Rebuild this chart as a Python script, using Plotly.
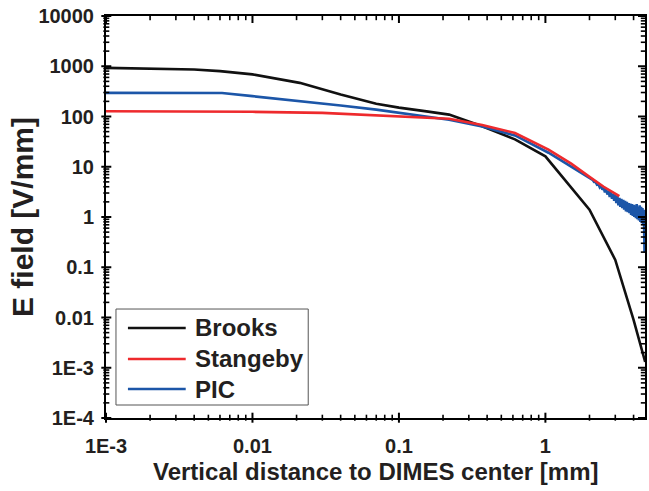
import plotly.graph_objects as go

# ---- data -------------------------------------------------------------
BROOKS_X = [0.001, 0.002, 0.004, 0.006, 0.01, 0.021, 0.04, 0.07, 0.1, 0.15,
            0.22, 0.37, 0.62, 1.0, 2.0, 3.0, 4.0, 4.8]
BROOKS_Y = [930, 910, 860, 800, 690, 467, 274, 180, 150, 128,
            109, 64, 35, 16.1, 1.4, 0.14, 0.009, 0.0013]

STANGEBY_X = [0.001, 0.003, 0.01, 0.03, 0.07, 0.1, 0.22, 0.37, 0.62, 1.05,
              1.5, 2.0, 2.5, 3.2]
STANGEBY_Y = [127, 126, 124, 118, 106, 100, 90, 68, 47, 22,
              11.5, 6.3, 4.0, 2.6]

PIC_X = [0.001, 0.0062, 0.01, 0.021, 0.04, 0.07, 0.1, 0.22, 0.37, 0.62,
         1.05, 1.5, 1.96]
PIC_Y = [295, 293, 254, 205, 165, 137, 118, 86, 63, 42,
         19, 10, 6.1]

# noisy tail of the particle-in-cell result
PIC_TAIL_X = [2.00, 2.05, 2.10, 2.15, 2.20, 2.25, 2.30, 2.35, 2.40, 2.45,
              2.50, 2.55, 2.60, 2.65, 2.70, 2.75, 2.80, 2.85, 2.90, 2.95,
              3.00, 3.05, 3.10, 3.15, 3.20, 3.25, 3.30, 3.35, 3.40, 3.45,
              3.50, 3.55, 3.60, 3.65, 3.70, 3.75, 3.80, 3.85, 3.90, 3.95,
              4.00, 4.05, 4.10, 4.15, 4.20, 4.25, 4.30, 4.35, 4.40, 4.45,
              4.50, 4.55, 4.60, 4.65, 4.70, 4.75, 4.80, 4.85]
PIC_TAIL_Y = [6.0, 5.6, 5.5, 5.0, 5.0, 4.4, 4.5, 3.9, 4.2, 3.5,
              3.8, 3.1, 3.6, 2.8, 3.3, 2.5, 3.1, 2.3, 2.9, 2.1,
              2.8, 1.9, 2.6, 1.7, 2.4, 1.6, 2.3, 1.5, 2.2, 1.4,
              2.1, 1.3, 2.0, 1.25, 1.9, 1.2, 1.85, 1.1, 1.8, 1.05,
              1.75, 1.0, 1.7, 0.95, 1.8, 0.9, 1.6, 0.85, 1.7, 0.8,
              1.6, 0.75, 1.5, 0.7, 1.4, 0.2, 1.3, 0.9]

SERIES_NAMES = ["Brooks", "Stangeby", "PIC"]
SERIES_COLORS = ["#111111", "#ee2a2d", "#1c56a8"]

X_TICKS = [0.001, 0.01, 0.1, 1]
X_TICK_TEXT = ["1E-3", "0.01", "0.1", "1"]
Y_TICKS = [1e-4, 1e-3, 0.01, 0.1, 1, 10, 100, 1000, 10000]
Y_TICK_TEXT = ["1E-4", "1E-3", "0.01", "0.1", "1", "10", "100", "1000", "10000"]

X_MINOR = [m * 10.0 ** e for e in range(-3, 1) for m in range(2, 10) if m * 10.0 ** e < 4.8]
Y_MINOR = [m * 10.0 ** e for e in range(-4, 4) for m in range(2, 10)]

X_RANGE = [-3, 0.68]
Y_RANGE = [-4, 4]

WIDTH, HEIGHT = 649, 491
MARGIN = dict(l=106, r=2, t=16, b=73)
PLOT_W = WIDTH - MARGIN["l"] - MARGIN["r"]
PLOT_H = HEIGHT - MARGIN["t"] - MARGIN["b"]
X_DECADE_PX = PLOT_W / (X_RANGE[1] - X_RANGE[0])
Y_DECADE_PX = PLOT_H / (Y_RANGE[1] - Y_RANGE[0])

FONT = "Liberation Sans"
INK = "#231f20"

fig = go.Figure()

curves = [
    (BROOKS_X, BROOKS_Y),
    (PIC_X + PIC_TAIL_X, PIC_Y + PIC_TAIL_Y),
    (STANGEBY_X, STANGEBY_Y),
]
order = [0, 2, 1]
for (xs, ys), idx in zip(curves, order):
    fig.add_trace(go.Scatter(
        x=xs, y=ys, mode="lines", name=SERIES_NAMES[idx],
        line=dict(color=SERIES_COLORS[idx], width=2.6),
        showlegend=False,
    ))


# ---- tick marks as line-shaped markers sitting on the frame -------------
def shift_x(log_edge, px):
    return 10 ** (log_edge + px / X_DECADE_PX)


def shift_y(log_edge, px):
    return 10 ** (log_edge + px / Y_DECADE_PX)


def tick_marks(xs, ys, length, width, vertical):
    # a "line-ew" marker is 1.4 x its size long
    fig.add_trace(go.Scatter(
        x=xs, y=ys, mode="markers", cliponaxis=False,
        marker=dict(symbol="line-ew", size=length / 1.4, color="black",
                    angle=90 if vertical else 0,
                    line=dict(color="black", width=width)),
        showlegend=False, hoverinfo="skip",
    ))


for vals, length, width in ((X_TICKS, 10, 2), (X_MINOR, 6, 1.6)):
    n = len(vals)
    tick_marks(vals, [shift_y(Y_RANGE[0], 0.3)] * n, length, width, True)             # bottom
    tick_marks(vals, [shift_y(Y_RANGE[1], -length * 0.35)] * n, length * 0.7, width, True)  # top

for vals, length, width in ((Y_TICKS, 10, 2), (Y_MINOR, 6, 1.6)):
    n = len(vals)
    tick_marks([shift_x(X_RANGE[0], 0.3)] * n, vals, length, width, False)            # left
    tick_marks([shift_x(X_RANGE[1], -length * 0.35)] * n, vals, length * 0.7, width, False)  # right

tickfont = dict(family=FONT, size=20, weight="bold", color=INK)

fig.update_layout(
    width=WIDTH, height=HEIGHT,
    margin=MARGIN,
    plot_bgcolor="white", paper_bgcolor="white",
    xaxis=dict(type="log", range=X_RANGE, showgrid=False, zeroline=False,
               tickmode="array", tickvals=X_TICKS, ticktext=X_TICK_TEXT,
               ticks="", showline=True, linewidth=2, linecolor="black",
               mirror=True, tickfont=tickfont, ticklabelstandoff=9),
    yaxis=dict(type="log", range=Y_RANGE, showgrid=False, zeroline=False,
               tickmode="array", tickvals=Y_TICKS, ticktext=Y_TICK_TEXT,
               ticks="", showline=True, linewidth=2, linecolor="black",
               mirror=True, tickfont=tickfont, ticklabelstandoff=6),
)

# axis titles
fig.add_annotation(text="Vertical distance to DIMES center [mm]",
                   xref="paper", yref="paper", x=0.5, y=0, yshift=-53,
                   xanchor="center", yanchor="middle", showarrow=False,
                   font=dict(family=FONT, size=24, weight="bold", color=INK))
fig.add_annotation(text="E field [V/mm]", textangle=-90,
                   xref="paper", yref="paper", x=0, y=0.5, xshift=-84,
                   xanchor="center", yanchor="middle", showarrow=False,
                   font=dict(family=FONT, size=30, weight="bold", color=INK))

# legend box drawn in paper coordinates
fig.add_shape(type="rect", xref="paper", yref="paper",
              x0=0.0185, x1=0.3752, y0=0.0323, y1=0.2711,
              line=dict(color="#555555", width=1), fillcolor="white", layer="above")
row_y = [0.2239, 0.1468, 0.0721]
for name, color, ry in zip(SERIES_NAMES, SERIES_COLORS, row_y):
    fig.add_shape(type="line", xref="paper", yref="paper",
                  x0=0.0407, x1=0.1479, y0=ry, y1=ry,
                  line=dict(color=color, width=2.6), layer="above")
    fig.add_annotation(text=name, xref="paper", yref="paper",
                       x=0.1608, y=ry, xanchor="left", yanchor="middle",
                       showarrow=False,
                       font=dict(family=FONT, size=24, weight="bold", color=INK))

fig.write_html("out.html")
